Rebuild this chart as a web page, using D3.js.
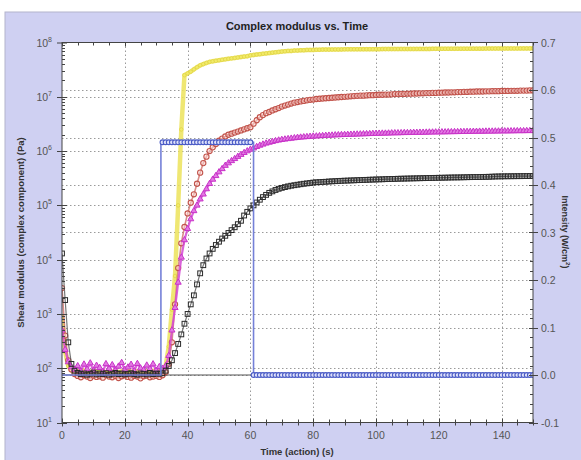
<!DOCTYPE html>
<html><head><meta charset="utf-8">
<script src="https://cdn.jsdelivr.net/npm/d3@7/dist/d3.min.js"></script>
<style>body{margin:0;background:#fff;} text{font-family:Arial,"Liberation Sans",sans-serif;}</style>
</head><body><svg id="c" width="581" height="460"></svg>
<script>
// ---- data ----
const timeSec = d3.range(0, 151);           // sample times, 1 s apart
const xTicks = [0, 20, 40, 60, 80, 100, 120, 140];
const leftTicks = [1e1, 1e2, 1e3, 1e4, 1e5, 1e6, 1e7, 1e8];
const rightTicks = [-0.1, 0.0, 0.1, 0.2, 0.3, 0.4, 0.5, 0.6, 0.7];
const rightTickLabels = ["-0.1", "0.0", "0.1", "0.2", "0.3", "0.4", "0.5", "0.6", "0.7"];

const yellowVals = [900,200,110,92,85,88,83,90,86,84,91,87,85,89,83,88,86,90,84,87,85,89,86,83,88,90,85,87,84,89,86,88,90,
 110,250,1200,5000,1.0e5,2.5e6,2.5e7,2.7e7,2.9e7,3.2e7,3.5e7,3.8e7,4.0e7,4.2e7,4.4e7,4.5e7,4.6e7,4.7e7,
 4.8e7,4.9e7,5.0e7,5.1e7,5.2e7,5.3e7,5.4e7,5.5e7,5.6e7,5.8e7,
 5.9e7,6.0e7,6.1e7,6.2e7,6.3e7,6.4e7,6.5e7,6.6e7,6.7e7,6.8e7,
 6.9e7,7.0e7,7.0e7,7.1e7,7.1e7,7.2e7,7.2e7,7.3e7,7.3e7,7.3e7,
 7.35e7,7.35e7,7.4e7,7.4e7,7.4e7,7.42e7,7.45e7,7.45e7,7.46e7,7.48e7,
 7.5e7,7.5e7,7.5e7,7.51e7,7.52e7,7.52e7,7.53e7,7.53e7,7.54e7,7.55e7,
 7.55e7,7.56e7,7.56e7,7.57e7,7.57e7,7.58e7,7.58e7,7.6e7,7.6e7,7.6e7,
 7.61e7,7.61e7,7.62e7,7.62e7,7.62e7,7.63e7,7.63e7,7.64e7,7.64e7,7.65e7,
 7.65e7,7.66e7,7.66e7,7.67e7,7.67e7,7.68e7,7.68e7,7.69e7,7.69e7,7.7e7,
 7.7e7,7.7e7,7.71e7,7.71e7,7.72e7,7.72e7,7.73e7,7.73e7,7.74e7,7.74e7,
 7.75e7,7.75e7,7.76e7,7.76e7,7.77e7,7.77e7,7.78e7,7.78e7,7.79e7,7.8e7];

const redVals = [3000,400,140,95,78,72,68,74,70,66,73,69,71,67,75,70,68,72,66,71,74,69,67,72,70,65,71,73,68,70,72,69,74,
 85,120,300,1500,7000,2.0e4,4.0e4,7.1e4,1.12e5,1.6e5,2.5e5,4.0e5,6.0e5,7.9e5,1.0e6,1.17e6,1.35e6,1.55e6,
 1.7e6,1.86e6,2.0e6,2.09e6,2.19e6,2.29e6,2.4e6,2.51e6,2.63e6,2.75e6,
 3.2e6,3.7e6,4.2e6,4.6e6,5.0e6,5.25e6,5.6e6,5.9e6,6.2e6,6.6e6,
 6.9e6,7.2e6,7.5e6,7.8e6,8.0e6,8.2e6,8.4e6,8.6e6,8.8e6,8.9e6,
 9.1e6,9.2e6,9.3e6,9.4e6,9.5e6,9.6e6,9.7e6,9.8e6,9.9e6,1.0e7,
 1.01e7,1.02e7,1.03e7,1.04e7,1.05e7,1.05e7,1.06e7,1.07e7,1.07e7,1.08e7,
 1.09e7,1.09e7,1.1e7,1.1e7,1.11e7,1.12e7,1.12e7,1.13e7,1.13e7,1.14e7,
 1.14e7,1.15e7,1.15e7,1.16e7,1.16e7,1.17e7,1.17e7,1.18e7,1.18e7,1.19e7,
 1.19e7,1.2e7,1.2e7,1.21e7,1.21e7,1.22e7,1.22e7,1.23e7,1.23e7,1.24e7,
 1.24e7,1.25e7,1.25e7,1.25e7,1.26e7,1.26e7,1.27e7,1.27e7,1.27e7,1.28e7,
 1.28e7,1.28e7,1.29e7,1.29e7,1.29e7,1.3e7,1.3e7,1.3e7,1.31e7,1.31e7];

const magentaVals = [500,220,130,105,95,110,88,118,96,124,90,112,102,86,120,98,115,92,108,126,94,104,117,89,121,100,93,113,97,119,91,106,99,
 110,170,500,1300,3800,1.1e4,2.3e4,3.7e4,5.6e4,7.9e4,1.0e5,1.3e5,1.6e5,2.0e5,2.5e5,3.0e5,3.5e5,4.1e5,
 4.7e5,5.4e5,6.0e5,6.6e5,7.2e5,7.9e5,8.6e5,9.3e5,1.0e6,1.07e6,
 1.13e6,1.2e6,1.27e6,1.33e6,1.39e6,1.44e6,1.49e6,1.54e6,1.58e6,1.62e6,
 1.65e6,1.68e6,1.71e6,1.74e6,1.77e6,1.79e6,1.81e6,1.83e6,1.85e6,1.87e6,
 1.88e6,1.9e6,1.91e6,1.93e6,1.94e6,1.95e6,1.97e6,1.98e6,1.99e6,2.0e6,
 2.01e6,2.02e6,2.03e6,2.04e6,2.05e6,2.06e6,2.07e6,2.08e6,2.09e6,2.1e6,
 2.11e6,2.12e6,2.12e6,2.13e6,2.14e6,2.15e6,2.15e6,2.16e6,2.17e6,2.17e6,
 2.18e6,2.19e6,2.19e6,2.2e6,2.2e6,2.21e6,2.22e6,2.22e6,2.23e6,2.23e6,
 2.24e6,2.24e6,2.25e6,2.25e6,2.26e6,2.26e6,2.27e6,2.27e6,2.28e6,2.28e6,
 2.29e6,2.29e6,2.3e6,2.3e6,2.31e6,2.31e6,2.31e6,2.32e6,2.32e6,2.33e6,
 2.33e6,2.33e6,2.34e6,2.34e6,2.35e6,2.35e6,2.35e6,2.36e6,2.36e6,2.36e6];

const blackVals = [13000,1800,300,120,90,82,78,80,76,79,83,77,80,78,81,76,79,82,78,80,77,79,81,78,76,80,79,77,82,78,80,79,81,
 90,110,140,190,280,420,660,1000,1500,2200,3500,5600,7900,1.05e4,1.3e4,1.58e4,1.86e4,2.14e4,
 2.45e4,2.75e4,3.1e4,3.5e4,3.95e4,4.5e4,5.2e4,6.5e4,7.6e4,8.8e4,
 1.0e5,1.13e5,1.27e5,1.42e5,1.56e5,1.7e5,1.81e5,1.92e5,2.02e5,2.1e5,
 2.17e5,2.24e5,2.3e5,2.35e5,2.4e5,2.45e5,2.5e5,2.54e5,2.58e5,2.63e5,
 2.66e5,2.68e5,2.7e5,2.72e5,2.75e5,2.77e5,2.79e5,2.81e5,2.83e5,2.85e5,
 2.86e5,2.88e5,2.89e5,2.91e5,2.92e5,2.94e5,2.95e5,2.97e5,2.98e5,3.0e5,
 3.01e5,3.02e5,3.04e5,3.05e5,3.06e5,3.07e5,3.09e5,3.1e5,3.11e5,3.12e5,
 3.13e5,3.14e5,3.15e5,3.16e5,3.17e5,3.18e5,3.19e5,3.2e5,3.21e5,3.22e5,
 3.23e5,3.24e5,3.25e5,3.26e5,3.27e5,3.27e5,3.28e5,3.29e5,3.3e5,3.31e5,
 3.32e5,3.32e5,3.33e5,3.34e5,3.35e5,3.36e5,3.38e5,3.4e5,3.41e5,3.42e5,
 3.43e5,3.43e5,3.44e5,3.44e5,3.45e5,3.45e5,3.46e5,3.46e5,3.47e5,3.47e5];

// intensity (right axis): on from 31.5 s to 61 s
const intensityTime = [0, 31.5, 31.5, 61, 61, 150];
const intensityVals = [0, 0, 0.49, 0.49, 0, 0];
const intensityMarkTimes = d3.range(32, 61).concat(d3.range(61, 151));
const intensityMarkVals = intensityMarkTimes.map(t => t < 61 ? 0.49 : 0);

// ---- layout ----
const svg = d3.select("#c");
const X0 = 62, X1 = 533, Y0 = 42.5, Y1 = 422.5;
const x = d3.scaleLinear().domain([0, 150]).range([X0, X1]);
const yL = d3.scaleLog().domain([1e1, 1e8]).range([Y1, Y0]);
const yR = d3.scaleLinear().domain([-0.1, 0.7]).range([Y1, Y0]);

svg.append("rect").attr("x", 5).attr("y", 12).attr("width", 580).attr("height", 452)
  .attr("fill", "#cfd0f2").attr("stroke", "#b4b4cc");
svg.append("rect").attr("x", X0).attr("y", Y0).attr("width", X1 - X0).attr("height", Y1 - Y0).attr("fill", "#fff");

// grid
const grid = svg.append("g").attr("stroke", "#9a9a9a").attr("stroke-width", 1).attr("stroke-dasharray", "1.5,2.5");
xTicks.filter(v => v > 0).forEach(v => grid.append("line").attr("x1", Math.round(x(v)) + .5).attr("x2", Math.round(x(v)) + .5).attr("y1", Y0).attr("y2", Y1));
leftTicks.slice(1, -1).forEach(v => grid.append("line").attr("x1", X0).attr("x2", X1).attr("y1", Math.round(yL(v)) + .5).attr("y2", Math.round(yL(v)) + .5));
rightTicks.slice(1, -1).forEach(v => grid.append("line").attr("x1", X0).attr("x2", X1).attr("y1", Math.round(yR(v)) + .5).attr("y2", Math.round(yR(v)) + .5));

svg.append("clipPath").attr("id", "pc").append("rect").attr("x", X0).attr("y", Y0 - 2).attr("width", X1 - X0).attr("height", Y1 - Y0 + 4);
const plot = svg.append("g").attr("clip-path", "url(#pc)");

// baseline at intensity 0
plot.append("line").attr("x1", x(0)).attr("x2", x(150)).attr("y1", yR(0)).attr("y2", yR(0)).attr("stroke", "#555").attr("stroke-width", 1.2);

const lineL = d3.line().x((d, i) => x(timeSec[i])).y(d => yL(d));

// yellow
plot.append("path").attr("d", lineL(yellowVals)).attr("fill", "none").attr("stroke", "#ece35a").attr("stroke-width", 4.5).attr("opacity", 0.85);
plot.selectAll(".ym").data(yellowVals).join("circle").attr("cx", (d, i) => x(timeSec[i])).attr("cy", d => yL(d)).attr("r", 1.8)
  .attr("fill", "#f1ea6a").attr("stroke", "#ddd03a").attr("stroke-width", 0.6);

// red circles
plot.append("path").attr("d", lineL(redVals)).attr("fill", "none").attr("stroke", "#d0706a").attr("stroke-width", 1.6).attr("opacity", 0.8);
plot.selectAll(".rm").data(redVals).join("circle").attr("cx", (d, i) => x(timeSec[i])).attr("cy", d => yL(d)).attr("r", 2.6)
  .attr("fill", "rgba(255,220,215,0.5)").attr("stroke", "#c2544c").attr("stroke-width", 1.1);

// magenta triangles
plot.append("path").attr("d", lineL(magentaVals)).attr("fill", "none").attr("stroke", "#d448d4").attr("stroke-width", 2.2).attr("opacity", 0.85);
const tri = d3.symbol().type(d3.symbolTriangle).size(16);
plot.selectAll(".mm").data(magentaVals).join("path").attr("d", tri)
  .attr("transform", (d, i) => `translate(${x(timeSec[i])},${yL(d)})`)
  .attr("fill", "#e27ae2").attr("stroke", "#c832c8").attr("stroke-width", 1);

// black squares
plot.append("path").attr("d", lineL(blackVals)).attr("fill", "none").attr("stroke", "#555").attr("stroke-width", 1.2).attr("opacity", 0.8);
plot.selectAll(".bm").data(blackVals).join("rect")
  .attr("x", (d, i) => x(timeSec[i]) - 2.4).attr("y", d => yL(d) - 2.4).attr("width", 4.8).attr("height", 4.8)
  .attr("fill", "none").attr("stroke", "#2a2a2a").attr("stroke-width", 1);

// intensity
const lineR = d3.line().x((d, i) => x(intensityTime[i])).y(d => yR(d));
plot.append("path").attr("d", lineR(intensityVals)).attr("fill", "none").attr("stroke", "#7480d8").attr("stroke-width", 1.6);
plot.selectAll(".im").data(intensityMarkVals).join("circle").attr("cx", (d, i) => x(intensityMarkTimes[i])).attr("cy", d => yR(d)).attr("r", 2.4)
  .attr("fill", "#dfe2fa").attr("stroke", "#4b5cc6").attr("stroke-width", 1.1);

// frame
svg.append("rect").attr("x", X0).attr("y", Y0).attr("width", X1 - X0).attr("height", Y1 - Y0).attr("fill", "none").attr("stroke", "#444").attr("stroke-width", 1);

// ticks
const tk = svg.append("g").attr("stroke", "#444").attr("stroke-width", 1);
const xMinor = d3.range(0, 151, 5);
xMinor.forEach(v => {
  const px = Math.round(x(v)) + .5, major = v % 20 === 0;
  const l = major ? 4 : 3;
  tk.append("line").attr("x1", px).attr("x2", px).attr("y1", Y1 - l).attr("y2", Y1 + l);
  tk.append("line").attr("x1", px).attr("x2", px).attr("y1", Y0).attr("y2", Y0 + l);
});
for (let e = 1; e < 8; e++) for (let m = 1; m < 10; m++) {
  const v = m * Math.pow(10, e), py = Math.round(yL(v)) + .5;
  if (m === 1) tk.append("line").attr("x1", X0 - 5).attr("x2", X0 + 5).attr("y1", py).attr("y2", py);
  else tk.append("line").attr("x1", X0).attr("x2", X0 + 3).attr("y1", py).attr("y2", py);
}
tk.append("line").attr("x1", X0 - 5).attr("x2", X0 + 5).attr("y1", Y0 + .5).attr("y2", Y0 + .5);
d3.range(-0.1, 0.701, 0.02).forEach(v => {
  const py = Math.round(yR(v)) + .5;
  const major = Math.abs(Math.round(v * 10) - v * 10) < 1e-6;
  if (major) tk.append("line").attr("x1", X1 - 4).attr("x2", X1 + 5).attr("y1", py).attr("y2", py);
  else tk.append("line").attr("x1", X1 - 3).attr("x2", X1).attr("y1", py).attr("y2", py);
});

// tick labels
const lab = svg.append("g").attr("fill", "#555").attr("font-size", 10.5);
xTicks.forEach(v => lab.append("text").attr("x", x(v)).attr("y", Y1 + 16).attr("text-anchor", "middle").text(v));
leftTicks.forEach(v => {
  const t = lab.append("text").attr("x", X0 - 10).attr("y", yL(v) + 4).attr("text-anchor", "end");
  t.append("tspan").text("10");
  t.append("tspan").attr("font-size", 7).attr("dy", -5).text(Math.round(Math.log10(v)));
});
rightTicks.forEach((v, i) => lab.append("text").attr("x", X1 + 8).attr("y", yR(v) + 4).text(rightTickLabels[i]));

// titles
svg.append("text").attr("x", 297).attr("y", 30).attr("text-anchor", "middle").attr("font-size", 11).attr("font-weight", "bold").attr("fill", "#222")
  .text("Complex modulus vs. Time");
svg.append("text").attr("x", 297).attr("y", 455).attr("text-anchor", "middle").attr("font-size", 9.5).attr("font-weight", "bold").attr("fill", "#333")
  .text("Time (action) (s)");
svg.append("text").attr("transform", `translate(24,${(Y0 + Y1) / 2}) rotate(-90)`).attr("text-anchor", "middle").attr("font-size", 9.5).attr("font-weight", "bold").attr("fill", "#333")
  .text("Shear modulus (complex component) (Pa)");
const rl = svg.append("text").attr("transform", `translate(562,232) rotate(90)`).attr("text-anchor", "middle").attr("font-size", 9).attr("font-weight", "bold").attr("fill", "#333");
rl.append("tspan").text("Intensity (W/cm");
rl.append("tspan").attr("font-size", 6).attr("dy", -4).text("2");
rl.append("tspan").attr("dy", 4).text(")");
</script></body></html>
